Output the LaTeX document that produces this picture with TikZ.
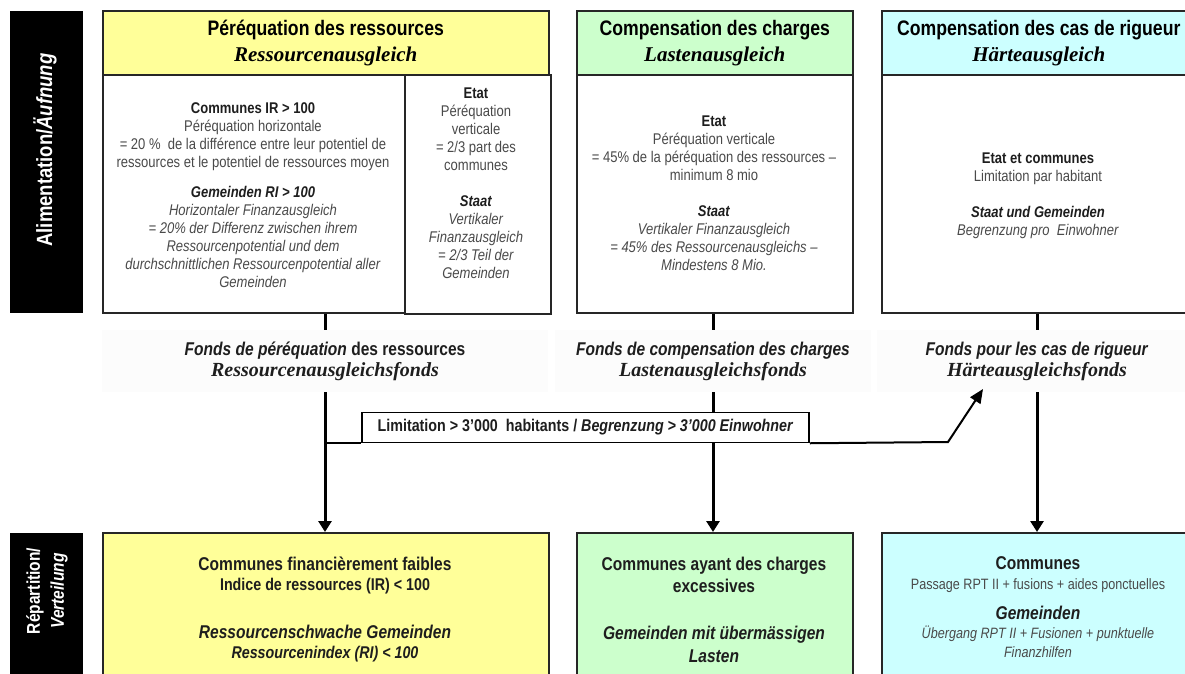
\documentclass[tikz,border=0pt]{standalone}
\usepackage{fontspec}
\setmainfont{Liberation Sans}[FakeStretch=0.84]
\newfontfamily\tmsfont{Liberation Serif}
\usetikzlibrary{arrows.meta,calc}

\definecolor{resyellow}{HTML}{FFFF99}
\definecolor{chagreen}{HTML}{CCFFCC}
\definecolor{rigcyan}{HTML}{CCFFFF}
\definecolor{txtgray}{HTML}{4A4A4A}
\definecolor{headgray}{HTML}{1E1E1E}
\newcommand{\tmsbi}{\tmsfont\bfseries\itshape}
\newcommand{\boxhead}[1]{{\color{headgray}\bfseries #1}}

\tikzset{
  frame/.style={draw=black!85, line width=1.5pt, inner sep=0pt, anchor=north west},
  headband/.style={frame, align=center, text=black,
    font=\fontsize{21}{26}\selectfont\bfseries},
  bodytext/.style={anchor=north, align=center, inner sep=0pt, text=txtgray,
    font=\fontsize{15.5}{18}\selectfont},
  fundlabel/.style={fill=black!1, inner sep=0pt, align=center, text=headgray,
    minimum height=62pt, font=\fontsize{18.5}{21}\selectfont\bfseries},
  gettext/.style={anchor=north, align=center, inner sep=0pt, text=headgray},
  sidelabel/.style={frame, fill=black, draw=none},
  limitbox/.style={draw=black, line width=1.5pt, fill=white, inner sep=0pt,
    minimum width=447pt, minimum height=30pt, text=headgray,
    font=\fontsize{17}{20}\selectfont\bfseries},
  stub/.style={line width=3pt},
  feed/.style={line width=3pt, -{Triangle[width=13pt,length=11pt]}},
  branch/.style={line width=2pt},
}

\begin{document}
\begin{tikzpicture}[x=1pt,y=-1pt]
  \useasboundingbox (0,0) rectangle (1185,673);
  \clip (0,0) rectangle (1185,673);
  \fill[white] (0,0) rectangle (1185,673);

  % side labels
  \node[sidelabel, minimum width=73pt, minimum height=302pt] (feedLab) at (9,10) {};
  \node[rotate=90, text=white, font=\fontsize{22}{26}\selectfont\bfseries] (feedTxt) at (45,150) {Alimentation/\textit{Äufnung}};
  \node[sidelabel, minimum width=73pt, minimum height=160pt] (distLab) at (9,532) {};
  \node[rotate=90, text=white, align=center, font=\fontsize{18.5}{24}\selectfont\bfseries] (distTxt) at (47,591) {Répartition/\\\textit{Verteilung}};

  % resources
  \node[headband, fill=resyellow, minimum width=446pt, minimum height=64pt] (resHead) at (102,10) {Péréquation des ressources\\{\tmsbi Ressourcenausgleich}};
  \node[frame, minimum width=302pt, minimum height=238pt] (resHoriz) at (102,74) {};
  \node[frame, minimum width=146pt, minimum height=239pt] (resVert) at (404,74) {};
  \node[bodytext] (resHorizTxt) at (253,102.5) {\boxhead{Communes IR > 100}\\
    Péréquation horizontale\\
    = 20 \%~~de la différence entre leur potentiel de\\
    ressources et le potentiel de ressources moyen\\[12pt]
    \boxhead{\textit{Gemeinden RI > 100}}\\
    \textit{Horizontaler Finanzausgleich}\\
    \textit{= 20\% der Differenz zwischen ihrem}\\
    \textit{Ressourcenpotential und dem}\\
    \textit{durchschnittlichen Ressourcenpotential aller}\\
    \textit{Gemeinden}};
  \node[bodytext] (resVertTxt) at (476,87.5) {\boxhead{Etat}\\
    Péréquation\\ verticale\\ = 2/3 part des\\ communes\\[18pt]
    \boxhead{\textit{Staat}}\\
    \textit{Vertikaler}\\ \textit{Finanzausgleich}\\ \textit{= 2/3 Teil der}\\ \textit{Gemeinden}};

  % charges
  \node[headband, fill=chagreen, minimum width=276pt, minimum height=64pt] (chaHead) at (576,10) {Compensation des charges\\{\tmsbi Lastenausgleich}};
  \node[frame, minimum width=276pt, minimum height=238pt] (chaBody) at (576,74) {};
  \node[bodytext] (chaTxt) at (714,115.5) {\boxhead{Etat}\\
    Péréquation verticale\\
    = 45\% de la péréquation des ressources –\\
    minimum 8 mio\\[18pt]
    \boxhead{\textit{Staat}}\\
    \textit{Vertikaler Finanzausgleich}\\
    \textit{= 45\% des Ressourcenausgleichs –}\\
    \textit{Mindestens 8 Mio.}};

  % hardship
  \node[headband, fill=rigcyan, minimum width=314pt, minimum height=64pt] (rigHead) at (881,10) {Compensation des cas de rigueur\\{\tmsbi Härteausgleich}};
  \node[frame, minimum width=314pt, minimum height=238pt] (rigBody) at (881,74) {};
  \node[bodytext] (rigTxt) at (1038,152.5) {\boxhead{Etat et communes}\\
    Limitation par habitant\\[18pt]
    \boxhead{\textit{Staat und Gemeinden}}\\
    \textit{Begrenzung pro~~Einwohner}};

  % funds
  \node[fundlabel, minimum width=446pt] (resFund) at (325,361) {\textit{Fonds de péréquation} des ressources\\{\tmsbi\fontsize{20}{21}\selectfont Ressourcenausgleichsfonds}};
  \node[fundlabel, minimum width=316pt] (chaFund) at (713,361) {\textit{Fonds de compensation des charges}\\{\tmsbi\fontsize{20}{21}\selectfont Lastenausgleichsfonds}};
  \node[fundlabel, minimum width=320pt] (rigFund) at (1037,361) {\textit{Fonds pour les cas de rigueur}\\{\tmsbi\fontsize{20}{21}\selectfont Härteausgleichsfonds}};

  % receiving communes
  \node[frame, fill=resyellow, minimum width=446pt, minimum height=160pt] (resGet) at (102,532) {};
  \node[frame, fill=chagreen, minimum width=276pt, minimum height=160pt] (chaGet) at (576,532) {};
  \node[frame, fill=rigcyan, minimum width=314pt, minimum height=160pt] (rigGet) at (881,532) {};
  \node[gettext, font=\fontsize{18.5}{20.5}\selectfont\bfseries] (resGetTxt) at (325,556.5) {Communes financièrement faibles\\
    {\fontsize{17}{20.5}\selectfont Indice de ressources (IR) < 100}\\[27pt]
    \textit{Ressourcenschwache Gemeinden}\\
    {\fontsize{17}{20.5}\selectfont\itshape Ressourcenindex (RI) < 100}};
  \node[gettext, font=\fontsize{18.5}{22.5}\selectfont\bfseries] (chaGetTxt) at (714,556.5) {Communes ayant des charges\\
    excessives\\[24.5pt]
    \textit{Gemeinden mit übermässigen}\\
    \textit{Lasten}};
  \node[gettext, font=\fontsize{18.5}{18.5}\selectfont\bfseries] (rigGetTxt) at (1038,556.5) {Communes\\[1.5pt]
    {\mdseries\color{txtgray}\fontsize{15}{18.5}\selectfont Passage RPT II + fusions + aides ponctuelles}\\[11.5pt]
    \textit{Gemeinden}\\[0.5pt]
    {\mdseries\itshape\color{txtgray}\fontsize{15}{18.5}\selectfont Übergang RPT II + Fusionen + punktuelle}\\
    {\mdseries\itshape\color{txtgray}\fontsize{15}{18.5}\selectfont Finanzhilfen}};

  % connectors
  \draw[stub] (resHoriz.south -| resFund.north) -- (resFund.north);
  \draw[feed] (resFund.south) -- (resGet.north -| resFund.south);
  \draw[stub] (chaBody.south -| chaFund.north) -- (chaFund.north);
  \draw[feed] (chaFund.south) -- (chaGet.north -| chaFund.south);
  \draw[stub] (rigBody.south -| rigFund.north) -- (rigFund.north);
  \draw[feed] (rigFund.south) -- (rigGet.north -| rigFund.south);

  % population limit
  \node[limitbox] (limit) at (585.5,427.5) {Limitation > 3\symbol{39}000~~habitants / \textit{Begrenzung > 3\symbol{39}000 Einwohner}};
  \coordinate (limitFork) at (resFund.south |- limit.south);
  \coordinate (limitBend) at (948,442);
  \coordinate (limitIn) at (983,389);
  \draw[branch] (limitFork) -- (limit.south west);
  \draw[branch, -{Triangle[width=12pt,length=14pt]}] (limit.south east) -- (limitBend) -- (limitIn);
\end{tikzpicture}
\end{document}
